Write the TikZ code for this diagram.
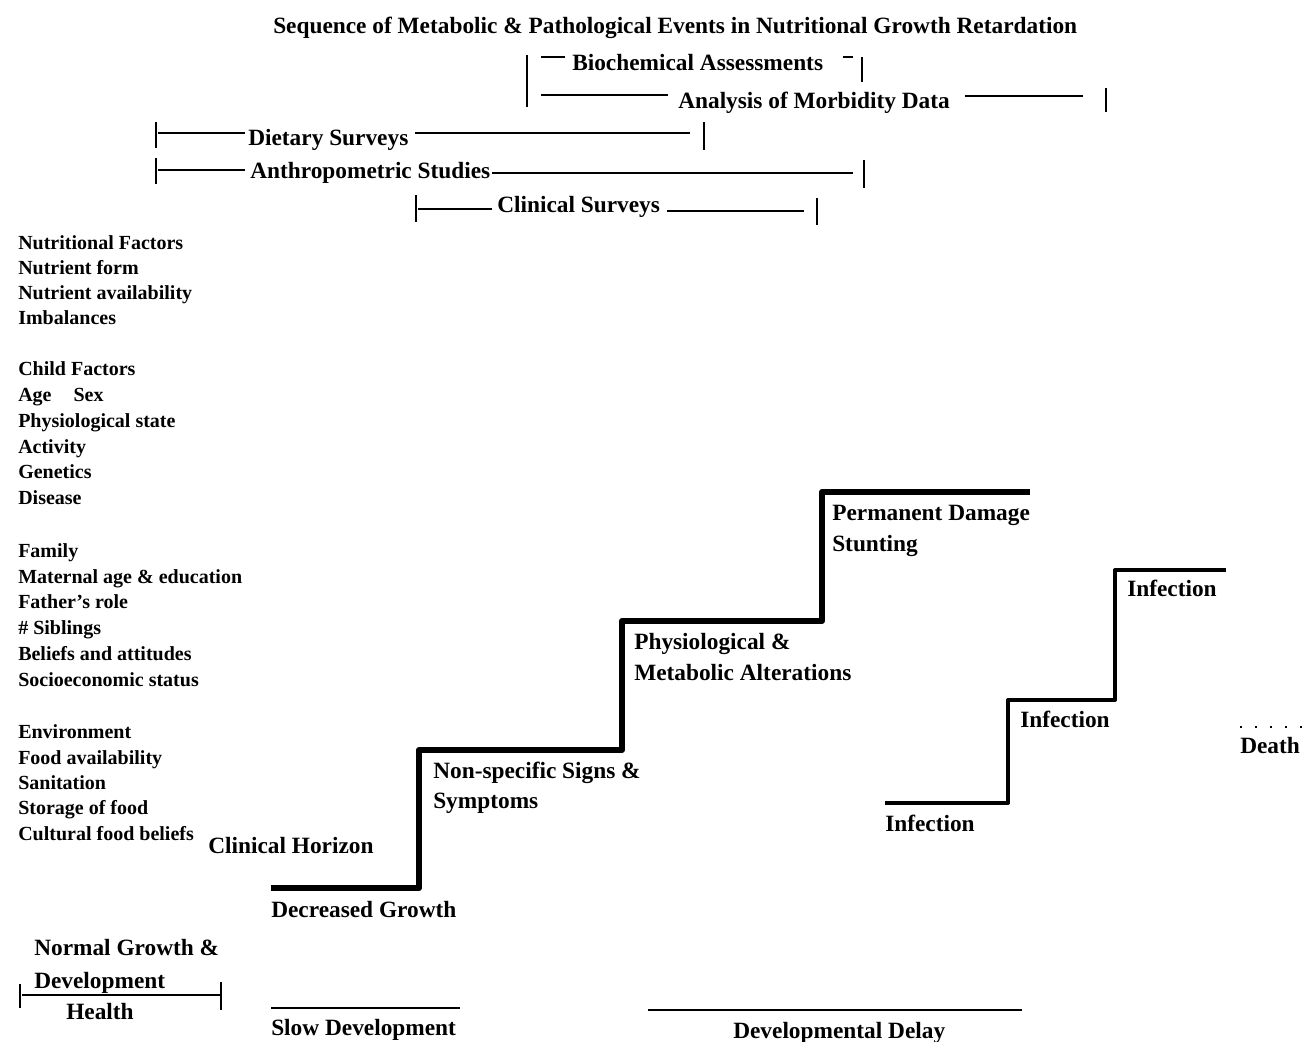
\documentclass[tikz,border=0pt]{standalone}
\usepackage{fontspec}
\setmainfont{Liberation Serif}
\begin{document}
\begin{tikzpicture}[x=0.75pt,y=-0.75pt,
  lbl/.style={inner sep=0pt, anchor=base west, font=\fontsize{17.5}{22}\selectfont\bfseries},
  lst/.style={inner sep=0pt, anchor=base west, font=\fontsize{15}{19}\selectfont\bfseries},
  stair/.style={line width=4.5pt, line join=round},
  istair/.style={line width=3pt, line join=round},
  tick/.style={line width=2pt},
  rule/.style={line width=1.1pt}]
\useasboundingbox (0,0) rectangle (1307,1042);

% title
\node[lbl] (title) at (273,33) {Sequence of Metabolic \& Pathological Events in Nutritional Growth Retardation};

% assessment ranges
\node[lbl] (bio) at (572,70) {Biochemical Assessments};
\node[lbl] (morb) at (678,108) {Analysis of Morbidity Data};
\node[lbl] (diet) at (248,145) {Dietary Surveys};
\node[lbl] (anth) at (250,178) {Anthropometric Studies};
\node[lbl] (clin) at (497,212) {Clinical Surveys};

\coordinate (bA) at (527,55); \coordinate (bB) at (527,107);
\draw[tick] (bA) -- (bB);
\coordinate (b1) at (541,57); \coordinate (b2) at (565,57);
\draw[rule] (b1) -- (b2);
\coordinate (b3) at (843,57); \coordinate (b4) at (853,57);
\draw[rule] (b3) -- (b4);
\coordinate (b5) at (862,57); \coordinate (b6) at (862,82);
\draw[tick] (b5) -- (b6);

\coordinate (m1) at (541,95); \coordinate (m2) at (668,95);
\draw[rule] (m1) -- (m2);
\coordinate (m3) at (965,96); \coordinate (m4) at (1083,96);
\draw[rule] (m3) -- (m4);
\coordinate (m5) at (1106,88); \coordinate (m6) at (1106,112);
\draw[tick] (m5) -- (m6);

\coordinate (d0) at (156,122); \coordinate (d0b) at (156,148);
\draw[tick] (d0) -- (d0b);
\coordinate (d1) at (158,133); \coordinate (d2) at (245,133);
\draw[rule] (d1) -- (d2);
\coordinate (d3) at (415,133); \coordinate (d4) at (690,133);
\draw[rule] (d3) -- (d4);
\coordinate (d5) at (704,122); \coordinate (d6) at (704,150);
\draw[tick] (d5) -- (d6);

\coordinate (a0) at (156,158); \coordinate (a0b) at (156,184);
\draw[tick] (a0) -- (a0b);
\coordinate (a1) at (158,170); \coordinate (a2) at (245,170);
\draw[rule] (a1) -- (a2);
\coordinate (a3) at (492,173); \coordinate (a4) at (853,173);
\draw[rule] (a3) -- (a4);
\coordinate (a5) at (864,160); \coordinate (a6) at (864,188);
\draw[tick] (a5) -- (a6);

\coordinate (c0) at (416,195); \coordinate (c0b) at (416,222);
\draw[tick] (c0) -- (c0b);
\coordinate (c1) at (418,209); \coordinate (c2) at (492,209);
\draw[rule] (c1) -- (c2);
\coordinate (c3) at (667,211); \coordinate (c4) at (804,211);
\draw[rule] (c3) -- (c4);
\coordinate (c5) at (817,198); \coordinate (c6) at (817,225);
\draw[tick] (c5) -- (c6);

% factor list
\foreach \yy/\tt [count=\i] in {249/Nutritional Factors, 274/Nutrient form, 299/Nutrient availability, 324/Imbalances,
  375/Child Factors, 401/Age\hspace{1.1em}Sex, 427/Physiological state, 453/Activity, 478/Genetics, 504/Disease,
  557/Family, 583/Maternal age \& education, 608/Father's role, 634/\# Siblings, 660/Beliefs and attitudes, 686/Socioeconomic status,
  738/Environment, 764/Food availability, 789/Sanitation, 814/Storage of food, 840/Cultural food beliefs}
  \node[lst] (f\i) at (18,\yy) {\tt};

% main staircase
\coordinate (s0) at (271,888); \coordinate (s1) at (419,888);
\coordinate (s2) at (419,750); \coordinate (s3) at (622,750);
\coordinate (s4) at (622,621); \coordinate (s5) at (822,621);
\coordinate (s6) at (822,492); \coordinate (s7) at (1030,492);
\draw[stair] (s0) -- (s1) -- (s2) -- (s3) -- (s4) -- (s5) -- (s6) -- (s7);

\node[lbl] (hor) at (208,853) {Clinical Horizon};
\node[lbl] (dec) at (271,917) {Decreased Growth};
\node[lbl] (ns1) at (433,778) {Non-specific Signs \&};
\node[lbl] (ns2) at (433,808) {Symptoms};
\node[lbl] (ph1) at (634,649) {Physiological \&};
\node[lbl] (ph2) at (634,680) {Metabolic Alterations};
\node[lbl] (pd1) at (832,520) {Permanent Damage};
\node[lbl] (pd2) at (832,551) {Stunting};

% infection staircase
\coordinate (i0) at (885,803); \coordinate (i1) at (1008,803);
\coordinate (i2) at (1008,700); \coordinate (i3) at (1115,700);
\coordinate (i4) at (1115,570); \coordinate (i5) at (1226,570);
\draw[istair] (i0) -- (i1) -- (i2) -- (i3) -- (i4) -- (i5);
\node[lbl] (inf1) at (885,831) {Infection};
\node[lbl] (inf2) at (1020,727) {Infection};
\node[lbl] (inf3) at (1127,596) {Infection};
\node[lbl] (death) at (1240,753) {Death};
\coordinate (dt1) at (1240,727); \coordinate (dt2) at (1306,727);
\draw[line width=1.3pt, dash pattern=on 1.3pt off 10pt] (dt1) -- (dt2);

% bottom
\node[lbl] (ng1) at (34,955) {Normal Growth \&};
\node[lbl] (ng2) at (34,988) {Development};
\node[lbl] (hl) at (66,1019) {Health};
\coordinate (h0) at (20,984); \coordinate (h0b) at (20,1008);
\draw[tick] (h0) -- (h0b);
\coordinate (h1) at (22,995); \coordinate (h2) at (220,995);
\draw[rule] (h1) -- (h2);
\coordinate (h3) at (221,982); \coordinate (h4) at (221,1010);
\draw[tick] (h3) -- (h4);

\coordinate (sl1) at (271,1008); \coordinate (sl2) at (460,1008);
\draw[rule] (sl1) -- (sl2);
\node[lbl] (slow) at (271,1035) {Slow Development};
\coordinate (dd1) at (648,1010); \coordinate (dd2) at (1022,1010);
\draw[rule] (dd1) -- (dd2);
\node[lbl] (delay) at (733,1038) {Developmental Delay};
\end{tikzpicture}
\end{document}
